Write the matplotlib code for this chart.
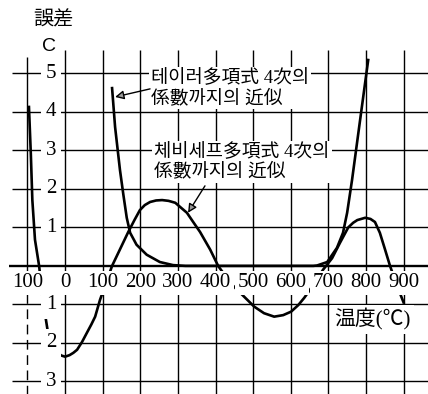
#!/usr/bin/env python
# -*- coding: utf-8 -*-

import matplotlib
matplotlib.use('Agg')
import matplotlib.pyplot as plt

###############################################################################
# Data
###############################################################################
TAYLOR_T = [
    125, 133, 146, 155, 164, 173, 190, 217, 252, 287, 320, 400, 500, 600,
    660, 670, 697, 723, 739, 750, 763, 785, 806
]
TAYLOR_E = [
    4.62, 3.61, 2.49, 1.85, 1.25, 0.86, 0.55, 0.29, 0.10, 0.02, 0.0, 0.0, 0.0,
    0.0, 0.0, 0.01, 0.10, 0.47, 0.86, 1.38, 2.23, 3.83, 5.35
]
CHEB_T = [
    -96, -91, -87, -80, -69, -59, -46, -33, -21, -10, 0, 12, 22, 32, 45, 58,
    70, 80, 93, 110, 125, 147, 168, 185, 199, 212, 226, 242, 258, 275, 293,
    324, 340, 359, 386, 407, 440, 476, 503, 529, 556, 580, 601, 620, 636,
    660, 686, 710, 731, 753, 766, 777, 798, 812, 824, 837, 850, 864, 882, 900
]
CHEB_E = [
    4.13, 2.90, 1.71, 0.68, 0.0, -0.90, -1.70, -2.02, -2.25, -2.33, -2.36,
    -2.32, -2.26, -2.18, -1.98, -1.74, -1.52, -1.32, -0.88, -0.42, 0.0, 0.45,
    0.88, 1.20, 1.45, 1.58, 1.66, 1.70, 1.71, 1.69, 1.64, 1.38, 1.15, 0.88,
    0.42, 0.0, -0.45, -0.80, -1.06, -1.23, -1.32, -1.28, -1.19, -1.02, -0.83,
    -0.50, -0.10, 0.20, 0.60, 1.00, 1.12, 1.19, 1.25, 1.22, 1.14, 0.86, 0.45,
    0.0, -0.50, -0.95
]
X_TICKS = [-100, 0, 100, 200, 300, 400, 500, 600, 700, 800, 900]
X_LABELS = ['100', '0', '100', '200', '300', '400', '500', '600', '700', '800', '900']
Y_TICKS = [5, 4, 3, 2, 1, -1, -2, -3]
Y_LABELS = ['5', '4', '3', '2', '1', '1', '2', '3']
TXT_TAYLOR = '테이러多項式 4次의\n係數까지의 近似'
TXT_CHEB = '체비세프多項式 4次의\n係數까지의 近似'
(TXT_YLAB, TXT_UNIT, TXT_XLAB) = ('誤差', 'C', '温度(℃)')

###############################################################################
# Style
###############################################################################
(CJK, NUM) = ('Noto Sans CJK KR', 'Liberation Serif')
MIX = [NUM, CJK, 'DejaVu Sans']
(LW_GRID, LW_ZERO, LW_CURVE) = (1.0, 1.7, 1.9)
WHITE_BOX = dict(facecolor='white', edgecolor='none', pad=2.5)

###############################################################################
# Figure
###############################################################################
fig = plt.figure(figsize=(4.28, 3.94), dpi=100)
ax = fig.add_axes([0, 0, 1, 1])
ax.set_xlim(-173, 965)
ax.set_ylim(-3.33, 6.91)
ax.axis('off')
# grid ------------------------------------------------------------------------
ax.vlines(X_TICKS[1:], -3.5, 5.6, colors='black', lw=LW_GRID, zorder=1)
ax.vlines(X_TICKS[0], 0, 5.43, colors='black', lw=LW_GRID, zorder=1)
ax.vlines(
    X_TICKS[0], -3.5, 0, colors='black', lw=LW_GRID, zorder=1,
    linestyles=(0, (7, 4))
)
ax.hlines(Y_TICKS, -141, 965, colors='black', lw=LW_GRID, zorder=1)
ax.hlines(0, -150, 965, colors='black', lw=LW_ZERO, zorder=2)
# curves ----------------------------------------------------------------------
ax.plot(TAYLOR_T, TAYLOR_E, color='black', lw=LW_CURVE, zorder=2,
        solid_joinstyle='round')
ax.plot(CHEB_T, CHEB_E, color='black', lw=LW_CURVE, zorder=2,
        solid_joinstyle='round')
# tick labels -----------------------------------------------------------------
for (xv, lab) in zip(X_TICKS, X_LABELS):
    ax.text(xv, -0.44, lab, family=NUM, fontsize=15, ha='center',
            va='center', bbox=dict(WHITE_BOX, pad=2.0), zorder=4)
for (yv, lab) in zip(Y_TICKS, Y_LABELS):
    ax.text(-37, yv, lab, family=NUM, fontsize=15, ha='center',
            va='center', bbox=dict(WHITE_BOX, pad=3.5), zorder=4)
ax.text(-32, 6.39, TXT_YLAB, family=CJK, fontsize=14.5, ha='center',
        va='center')
ax.text(-43, 5.69, TXT_UNIT, family='Liberation Sans', fontsize=14,
        ha='center', va='center')
ax.text(816, -1.40, TXT_XLAB, family=MIX, fontsize=15, ha='center',
        va='center', bbox=WHITE_BOX, zorder=4)
# annotations -----------------------------------------------------------------
ax.text(229, 4.62, TXT_TAYLOR, family=MIX, fontsize=13.5, ha='left',
        va='center', linespacing=1.2, bbox=dict(WHITE_BOX, pad=1.5),
        zorder=4)
ax.text(237, 2.70, TXT_CHEB, family=MIX, fontsize=13.5, ha='left',
        va='center', linespacing=1.1, bbox=dict(WHITE_BOX, pad=1.5),
        zorder=4)
ARROW = dict(arrowstyle='-|>', lw=1.0, ec='black', fc='#9a9a9a',
             mutation_scale=13, shrinkA=0, shrinkB=0)
ax.annotate('', xy=(133, 4.39), xytext=(226, 4.60), arrowprops=ARROW,
            zorder=5)
ax.annotate('', xy=(327, 1.38), xytext=(372, 2.08), arrowprops=ARROW,
            zorder=5)

fig.savefig('out.png', dpi=100, facecolor='white')
plt.close('all')
